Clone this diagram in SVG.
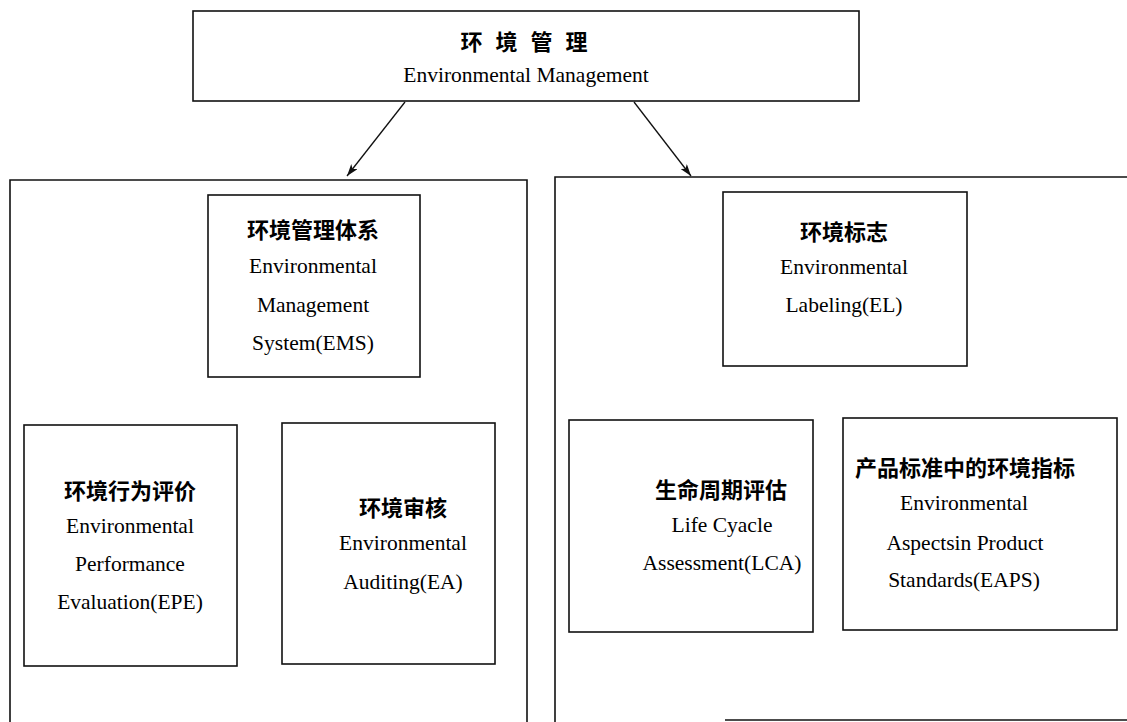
<svg xmlns="http://www.w3.org/2000/svg" width="1127" height="722" viewBox="0 0 1127 722">
<style>
.box{fill:none;stroke:#111;stroke-width:1.6}
.cn{font-family:"Noto Sans CJK SC","Noto Sans",sans-serif;font-weight:bold;font-size:22px;fill:#000;text-anchor:middle;dominant-baseline:central}
.en{font-family:"Liberation Serif","Times New Roman",serif;font-size:21.5px;fill:#000;text-anchor:middle;dominant-baseline:central}
.edge{fill:none;stroke:#111;stroke-width:1.3}
</style>
<defs>
<marker id="arr" viewBox="0 0 12 8" refX="12" refY="4" markerWidth="12" markerHeight="8" markerUnits="userSpaceOnUse" orient="auto">
<path d="M0,0 L12,4 L0,8 L3,4 Z" fill="#111"/>
</marker>
</defs>
<rect width="1127" height="722" fill="#fff"/>
<g id="containers">
<path class="box" d="M10,722 V180 H527 V722"/>
<path class="box" d="M555,722 V177 H1127"/>
<path class="box" d="M725,720 H1127"/>
</g>
<g id="connectors">
<line class="edge" x1="405" y1="102" x2="347" y2="176" marker-end="url(#arr)"/>
<line class="edge" x1="634" y1="102" x2="691" y2="176" marker-end="url(#arr)"/>
</g>
<g id="node-em">
<rect class="box" x="193" y="11" width="666" height="90"/>
<text class="cn" x="526" y="40" letter-spacing="4">环 境 管 理</text>
<text class="en" x="526" y="75">Environmental Management</text>
</g>
<g id="node-ems">
<rect class="box" x="208" y="195" width="212" height="182"/>
<text class="cn" x="313" y="228">环境管理体系</text>
<text class="en" x="313" y="266">Environmental</text>
<text class="en" x="313" y="305">Management</text>
<text class="en" x="313" y="343">System(EMS)</text>
</g>
<g id="node-el">
<rect class="box" x="723" y="192" width="244" height="174"/>
<text class="cn" x="844" y="230">环境标志</text>
<text class="en" x="844" y="267">Environmental</text>
<text class="en" x="844" y="305">Labeling(EL)</text>
</g>
<g id="node-epe">
<rect class="box" x="24" y="425" width="213" height="241"/>
<text class="cn" x="130" y="489">环境行为评价</text>
<text class="en" x="130" y="526">Environmental</text>
<text class="en" x="130" y="564">Performance</text>
<text class="en" x="130" y="602">Evaluation(EPE)</text>
</g>
<g id="node-ea">
<rect class="box" x="282" y="423" width="213" height="241"/>
<text class="cn" x="403" y="506">环境审核</text>
<text class="en" x="403" y="543">Environmental</text>
<text class="en" x="403" y="582">Auditing(EA)</text>
</g>
<g id="node-lca">
<rect class="box" x="569" y="420" width="244" height="212"/>
<text class="cn" x="721" y="488">生命周期评估</text>
<text class="en" x="722" y="525">Life Cyacle</text>
<text class="en" x="722" y="563">Assessment(LCA)</text>
</g>
<g id="node-eaps">
<rect class="box" x="843" y="418" width="274" height="212"/>
<text class="cn" x="965" y="466">产品标准中的环境指标</text>
<text class="en" x="964" y="503">Environmental</text>
<text class="en" x="965" y="543">Aspectsin Product</text>
<text class="en" x="964" y="580">Standards(EAPS)</text>
</g>
</svg>
